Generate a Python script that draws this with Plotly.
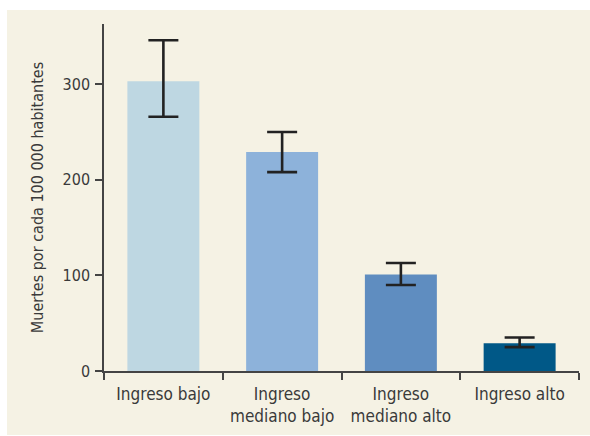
import plotly.graph_objects as go

# Mortality by income group (deaths per 100 000 inhabitants)
categories = ["Ingreso bajo", "Ingreso<br>mediano bajo", "Ingreso<br>mediano alto", "Ingreso alto"]
deaths = [303, 229, 101, 29]
err_plus = [43, 21, 12, 6]
err_minus = [37, 21, 11, 4]
bar_colors = ["#BED7E2", "#8DB2DA", "#5F8DC0", "#005887"]
y_ticks = [0, 100, 200, 300]

FONT = "DejaVu Sans Condensed, Liberation Sans Narrow, sans-serif"
TEXT = "#3a3a3a"
CREAM = "#F5F2E4"

W, H = 590, 436
L, R, T, B = 104, 11, 24, 65
pw, ph = W - L - R, H - T - B

fig = go.Figure(
    go.Bar(
        x=categories,
        y=deaths,
        marker=dict(color=bar_colors, line=dict(width=0)),
        error_y=dict(
            type="data",
            symmetric=False,
            array=err_plus,
            arrayminus=err_minus,
            color="#222222",
            thickness=2.6,
            width=15,
        ),
    )
)

# cream panel behind the chart
fig.add_shape(
    type="rect",
    xref="paper", yref="paper",
    x0=(7 - L) / pw, x1=(W - L) / pw,
    y0=(T + ph - 435) / ph, y1=(T + ph - 10) / ph,
    fillcolor=CREAM, line=dict(width=0), layer="below",
)

fig.update_layout(
    width=W,
    height=H,
    margin=dict(l=L, r=R, t=T, b=B),
    paper_bgcolor="white",
    plot_bgcolor="rgba(0,0,0,0)",
    bargap=0.394,
    showlegend=False,
    font=dict(family=FONT, size=16, color=TEXT),
)

fig.update_xaxes(
    type="category",
    tickson="boundaries",
    tickangle=0,
    ticks="outside",
    ticklen=7,
    tickwidth=1.5,
    tickcolor="#444444",
    ticklabelstandoff=7,
    showline=True,
    linecolor="#444444",
    linewidth=1.5,
    showgrid=False,
    zeroline=False,
    automargin=False,
    tickfont=dict(family=FONT, size=17, color=TEXT),
)

fig.update_yaxes(
    range=[0, 363],
    tickvals=y_ticks,
    ticks="outside",
    ticklen=7,
    tickwidth=1.5,
    tickcolor="#444444",
    ticklabelstandoff=2,
    showline=True,
    linecolor="#444444",
    linewidth=1.5,
    showgrid=False,
    zeroline=False,
    automargin=False,
    tickfont=dict(family=FONT, size=16, color=TEXT),
    title=dict(
        text="Muertes por cada 100 000 habitantes",
        font=dict(family=FONT, size=16, color=TEXT),
    ),
)

fig.write_html("out.html")
